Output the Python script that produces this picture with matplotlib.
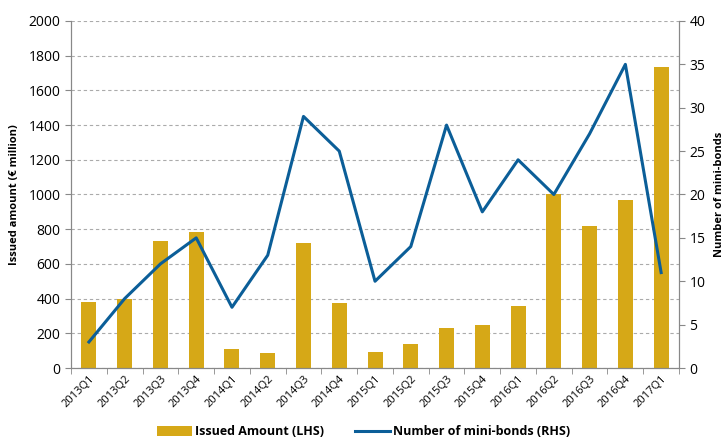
import matplotlib
matplotlib.use("Agg")
import matplotlib.pyplot as plt
from matplotlib.lines import Line2D
from matplotlib.patches import Patch

quarters = ["2013Q1", "2013Q2", "2013Q3", "2013Q4", "2014Q1", "2014Q2", "2014Q3",
            "2014Q4", "2015Q1", "2015Q2", "2015Q3", "2015Q4", "2016Q1", "2016Q2",
            "2016Q3", "2016Q4", "2017Q1"]
issued_amount = [380, 395, 730, 785, 110, 85, 720, 375, 90, 140, 230, 245, 355,
                 1000, 820, 970, 1735]
num_bonds = [3, 8, 12, 15, 7, 13, 29, 25, 10, 14, 28, 18, 24, 20, 27, 35, 11]

bar_color = "#D6A817"
line_color = "#0B5E98"
axis_color = "#888888"

plt.rcParams["font.family"] = ["Open Sans", "DejaVu Sans"]

fig = plt.figure(figsize=(7.27, 4.43), dpi=100)
ax = fig.add_axes([0.0977, 0.1693, 0.8363, 0.7833])
ax2 = ax.twinx()

x = list(range(len(quarters)))
ax.bar(x, issued_amount, width=0.42, color=bar_color, zorder=2)
ax2.plot(x, num_bonds, color=line_color, lw=2.2, zorder=3)

ax.set_xlim(-0.5, len(quarters) - 0.5)
ax.set_ylim(0, 2000)
ax.set_yticks(range(0, 2001, 200))
ax2.set_ylim(0, 40)
ax2.set_yticks(range(0, 41, 5))

ax.yaxis.grid(True, linestyle=(0, (3, 2.5)), color="#ABABAB", lw=0.8)
ax.set_axisbelow(True)

ax.set_xticks(x)
ax.set_xticklabels(quarters, rotation=45, ha="right", rotation_mode="anchor",
                   fontsize=8)
ax.set_xticks([i + 0.5 for i in range(-1, len(quarters))], minor=True)
ax.tick_params(axis="x", which="major", length=0, pad=4)
ax.tick_params(axis="x", which="minor", length=4, color=axis_color)
ax.tick_params(axis="y", length=4, color=axis_color, labelsize=10)
ax2.tick_params(axis="y", length=4, color=axis_color, labelsize=10)

for a in (ax, ax2):
    a.spines["top"].set_visible(False)
    a.spines["left"].set_color(axis_color)
    a.spines["right"].set_color(axis_color)
    a.spines["bottom"].set_color(axis_color)

ax.set_ylabel("Issued amount (€ million)", fontsize=8, fontweight="bold", labelpad=6)
ax2.set_ylabel("Number of mini-bonds", fontsize=8, fontweight="bold", labelpad=6)

handles = [Patch(facecolor=bar_color, edgecolor="none"),
           Line2D([0], [0], color=line_color, lw=2.2)]
fig.legend(handles, ["Issued Amount (LHS)", "Number of mini-bonds (RHS)"],
           loc="center", bbox_to_anchor=(0.5, 0.025), ncol=2, frameon=False,
           prop={"size": 9, "weight": "bold"}, handlelength=2.8,
           handleheight=0.8, columnspacing=2.5, handletextpad=0.2)

fig.savefig("out.png", dpi=100)
